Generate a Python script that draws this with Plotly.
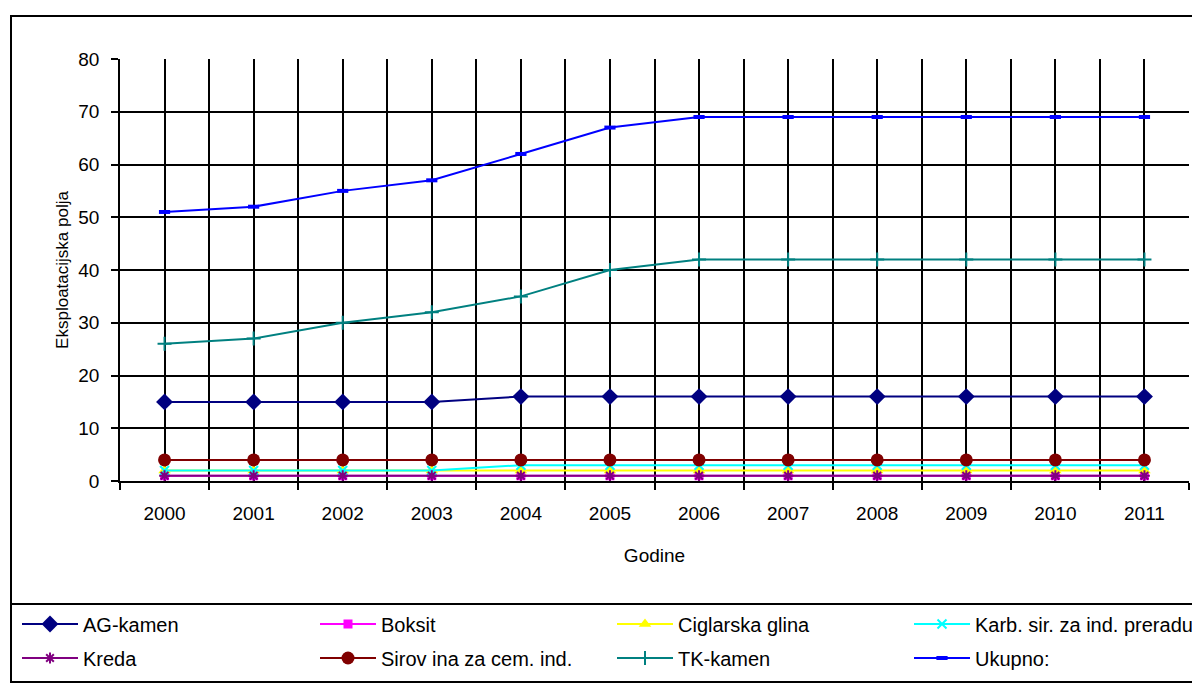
import plotly.graph_objects as go

# ── Data ────────────────────────────────────────────────────────────
YEARS = [2000, 2001, 2002, 2003, 2004, 2005, 2006, 2007, 2008, 2009, 2010, 2011]

AG_KAMEN   = [15, 15, 15, 15, 16, 16, 16, 16, 16, 16, 16, 16]
BOKSIT     = [1, 1, 1, 1, 1, 1, 1, 1, 1, 1, 1, 1]
CIGLARSKA  = [2, 2, 2, 2, 2, 2, 2, 2, 2, 2, 2, 2]
KARB       = [2, 2, 2, 2, 3, 3, 3, 3, 3, 3, 3, 3]
KREDA      = [1, 1, 1, 1, 1, 1, 1, 1, 1, 1, 1, 1]
SIROVINA   = [4, 4, 4, 4, 4, 4, 4, 4, 4, 4, 4, 4]
TK_KAMEN   = [26, 27, 30, 32, 35, 40, 42, 42, 42, 42, 42, 42]
UKUPNO     = [51, 52, 55, 57, 62, 67, 69, 69, 69, 69, 69, 69]

# (name, values, colour, marker symbol, marker size)
SERIES = [
    ("AG-kamen", AG_KAMEN, "#000080", "diamond", 13),
    ("Boksit", BOKSIT, "#FF00FF", "square", 9),
    ("Ciglarska glina", CIGLARSKA, "#FFFF00", "triangle-up", 11),
    ("Karb. sir. za ind. preradu", KARB, "#00FFFF", "x-thin", 9),
    ("Kreda", KREDA, "#800080", "asterisk", 9),
    ("Sirov ina za cem. ind.", SIROVINA, "#800000", "circle", 13),
    ("TK-kamen", TK_KAMEN, "#008080", "cross-thin", 10),
    ("Ukupno:", UKUPNO, "#0000FF", "line-ew", 8),
]

FONT = "Liberation Sans, Arial, sans-serif"

# page body has an 8px margin, so the figure is drawn from (8, 8)
OFF = 8
W, H = 1200 - OFF, 684 - OFF
# plot area in window pixels
PL, PR, PT, PB = 120, 1189, 59, 481

# legend grid (window pixels): 4 columns x 2 rows
LEG_COLS = [17, 315, 612, 909]
LEG_ROWS = [624, 658]


def px_x(px):
    return (px - PL) / (PR - PL)


def px_y(py):
    return (PB - py) / (PB - PT)


fig = go.Figure()
legends = {}

for i, (name, vals, color, symbol, size) in enumerate(SERIES):
    open_sym = symbol in ("x-thin", "asterisk", "cross-thin", "line-ew")
    marker = dict(symbol=symbol, size=size, color=color)
    if open_sym:
        marker["line"] = dict(color=color, width=4 if symbol == "line-ew" else 2)
    else:
        marker["line"] = dict(width=0)
    leg = "legend" if i == 0 else f"legend{i + 1}"
    fig.add_trace(go.Scatter(
        x=YEARS, y=vals, name=name, mode="lines+markers",
        line=dict(color=color, width=2),
        marker=marker,
        legend=leg, showlegend=True,
    ))
    legends[leg] = dict(
        x=px_x(LEG_COLS[i % 4]), y=px_y(LEG_ROWS[i // 4]),
        xanchor="left", yanchor="middle",
        itemwidth=56, bgcolor="rgba(0,0,0,0)",
        font=dict(size=20),
    )

fig.update_layout(
    width=W, height=H,
    showlegend=True,
    paper_bgcolor="white",
    plot_bgcolor="white",
    margin=dict(l=PL - OFF, r=1200 - PR, t=PT - OFF, b=684 - PB, autoexpand=False),
    font=dict(family=FONT, size=19, color="black"),
    xaxis=dict(
        range=[1999.5, 2011.5],
        tickmode="array", tickvals=YEARS,
        ticks="", showgrid=True, gridcolor="black", gridwidth=1.5,
        showline=True, linecolor="black", linewidth=1.5,
        zeroline=False,
        ticklabelstandoff=14,
        tickfont=dict(size=19),
        minor=dict(tickmode="linear", tick0=1999.5, dtick=1,
                   showgrid=True, gridcolor="black", gridwidth=1.5,
                   ticks="outside", ticklen=7, tickcolor="black", tickwidth=1.5),
        title=dict(text="Godine", standoff=26, font=dict(size=19)),
    ),
    yaxis=dict(
        range=[0, 80], dtick=10,
        showgrid=True, gridcolor="black", gridwidth=1.5,
        showline=True, linecolor="black", linewidth=1.5,
        zeroline=False,
        ticks="outside", ticklen=7, tickcolor="black", tickwidth=1.5,
        ticklabelstandoff=8,
        tickfont=dict(size=19),
        title=dict(text="Eksploatacijska polja", standoff=5, font=dict(size=17)),
    ),
    shapes=[
        # outer chart frame
        dict(type="rect", xref="paper", yref="paper",
             x0=px_x(11), x1=px_x(1210), y0=px_y(682), y1=px_y(16),
             line=dict(color="black", width=2), fillcolor="rgba(0,0,0,0)", layer="below"),
        # legend box
        dict(type="rect", xref="paper", yref="paper",
             x0=px_x(11), x1=px_x(1210), y0=px_y(682), y1=px_y(604),
             line=dict(color="black", width=2), fillcolor="rgba(0,0,0,0)", layer="below"),
    ],
    **legends,
)

fig.write_html("out.html")
